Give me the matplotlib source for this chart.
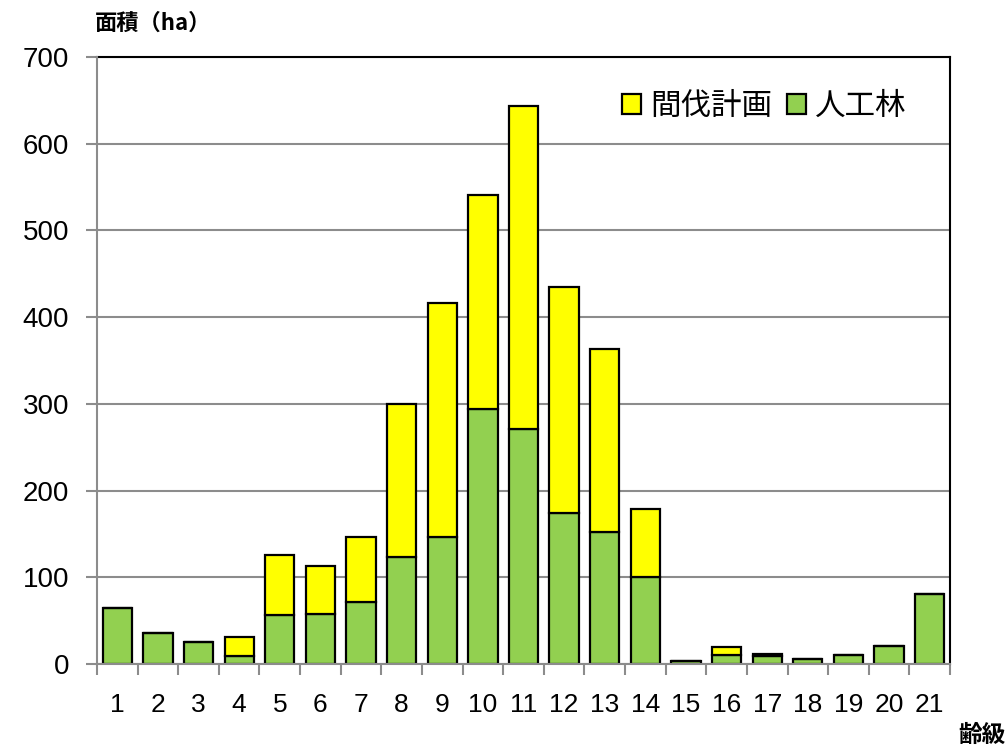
import matplotlib
matplotlib.use("Agg")
import matplotlib.pyplot as plt
import numpy as np

plt.rcParams['font.family'] = ['Liberation Sans', 'Noto Sans CJK JP', 'DejaVu Sans']

categories = [str(i) for i in range(1, 22)]
jinkorin = [65, 36, 25, 9, 57, 58, 71, 123, 146, 294, 271, 174, 152, 100, 3, 10, 9, 6, 10, 21, 81]
kanbatsu_total = [65, 36, 25, 31, 126, 113, 147, 300, 416, 541, 643, 435, 363, 179, 3, 20, 12, 6, 10, 21, 81]
kanbatsu = [t - g for t, g in zip(kanbatsu_total, jinkorin)]
yticks = [0, 100, 200, 300, 400, 500, 600, 700]

GREEN = '#92D050'
YELLOW = '#FFFF00'
GRAY = '#8C8C8C'

fig = plt.figure(figsize=(10.08, 7.5), dpi=100)
ax = fig.add_axes([97/1008, 86/750, 853/1008, 607/750])

x = np.arange(len(categories))
w = 0.72
b1 = ax.bar(x, jinkorin, width=w, color=GREEN, edgecolor='black', linewidth=1.6, zorder=3, label='人工林')
b2 = ax.bar(x, kanbatsu, width=w, bottom=jinkorin, color=YELLOW, edgecolor='black', linewidth=1.6, zorder=3, label='間伐計画')

ax.set_xlim(-0.5, len(categories) - 0.5)
ax.set_ylim(0, 700)
ax.set_yticks(yticks)
ax.set_yticklabels([str(v) for v in yticks], fontsize=20)
ax.yaxis.grid(True, color=GRAY, linewidth=1.5, zorder=0)
ax.set_axisbelow(True)

ax.set_xticks(x)
ax.set_xticklabels(categories, fontsize=19)
ax.tick_params(axis='x', which='major', length=0, pad=21)
ax.set_xticks(np.arange(-0.5, len(categories)), minor=True)
ax.tick_params(axis='x', which='minor', length=8, width=1.5, color=GRAY, direction='out')
ax.tick_params(axis='y', which='major', length=8, width=1.5, color=GRAY, direction='out', pad=12)

for s in ['left', 'bottom']:
    ax.spines[s].set_color(GRAY)
    ax.spines[s].set_linewidth(1.5)
    ax.spines[s].set_zorder(4)
for s in ['top', 'right']:
    ax.spines[s].set_color('black')
    ax.spines[s].set_linewidth(1.5)

leg = ax.legend(handles=[b2, b1], loc='center right', bbox_to_anchor=(0.963, 0.918),
                ncol=2, frameon=False, fontsize=22, handlelength=0.6, handleheight=0.6,
                handletextpad=0.3, columnspacing=0.5, borderaxespad=0)

fig.text(95/1008, 1 - 23/750, '面積（ha）', fontsize=16, fontweight='bold',
         family=['Noto Sans CJK JP', 'DejaVu Sans'], ha='left', va='center')
fig.text(1006/1008, 1 - 735/750, '齢級', fontsize=17, fontweight='bold',
         family=['Noto Sans CJK JP', 'DejaVu Sans'], ha='right', va='center')

fig.savefig('out.png', dpi=100)
